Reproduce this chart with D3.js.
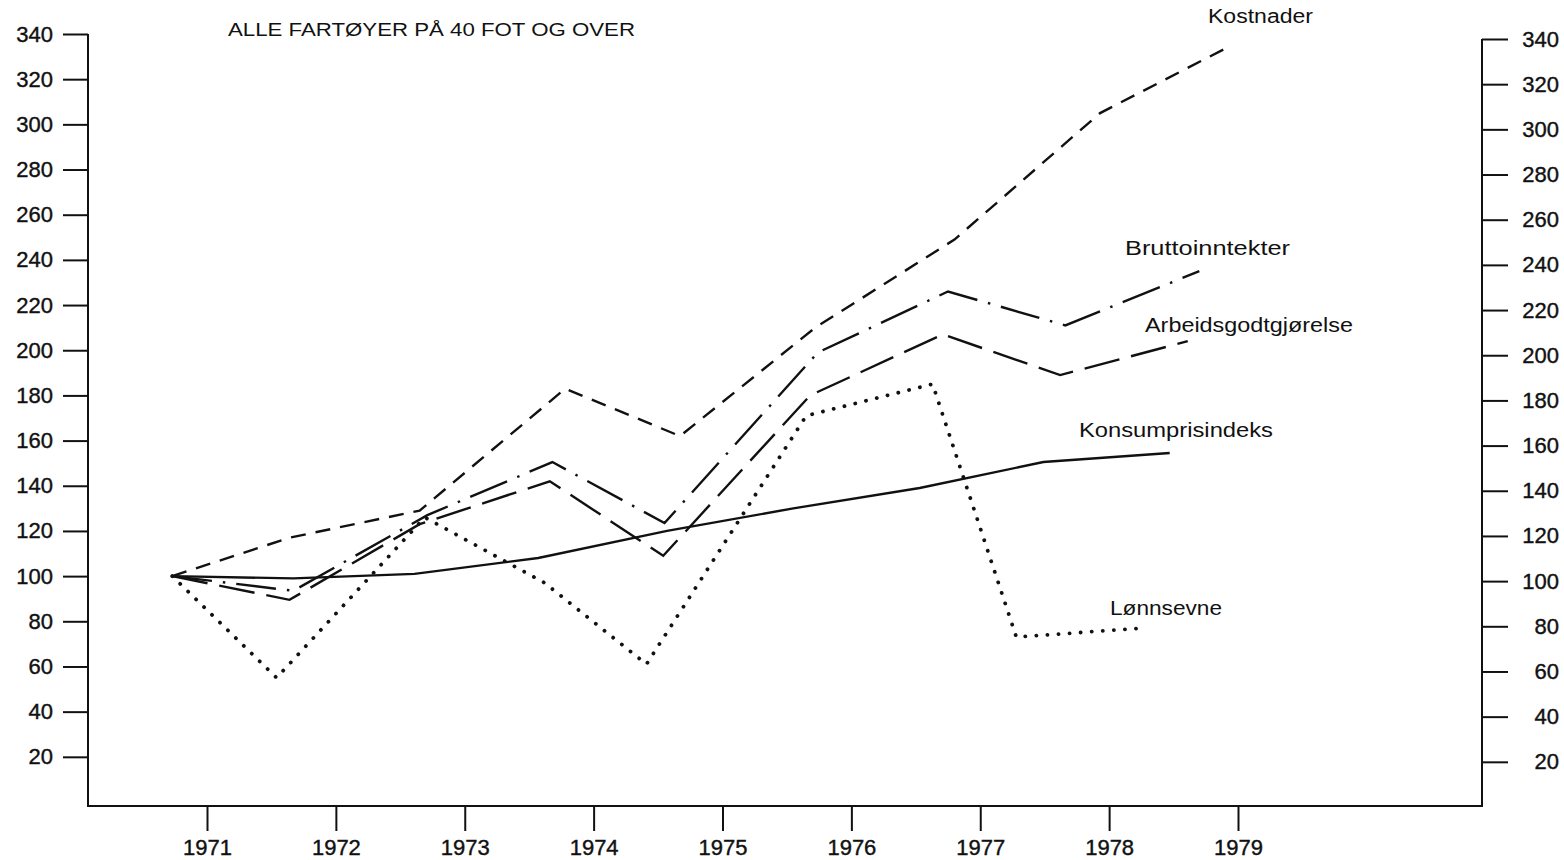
<!DOCTYPE html>
<html>
<head>
<meta charset="utf-8">
<script src="https://cdn.jsdelivr.net/npm/d3@7"></script>
<style>
  body { margin: 0; background: #fff; }
  svg { display: block; }
  text { font-family: "Liberation Sans", Arial, sans-serif; fill: #111; }
</style>
</head>
<body>
<div class="canvas"></div>
<script>
const WIDTH = 1564;
const HEIGHT = 860;

// data (x positions are fractional years, as drawn)
const yTicks = [20, 40, 60, 80, 100, 120, 140, 160, 180, 200, 220, 240, 260, 280, 300, 320, 340];
const yearTicks = [1971, 1972, 1973, 1974, 1975, 1976, 1977, 1978, 1979];

const kostnaderYears = [1970.73, 1971.64, 1972.65, 1973.78, 1974.67, 1975.72, 1976.80, 1977.93, 1978.95];
const kostnaderValues = [100, 117, 129, 183, 162, 210, 249, 305, 335];

const bruttoYears = [1970.73, 1971.67, 1972.71, 1973.68, 1974.55, 1975.74, 1976.75, 1977.66, 1978.70];
const bruttoValues = [100, 93.5, 127, 150.5, 123.5, 199, 226, 211, 235];

const arbeidYears = [1970.73, 1971.64, 1972.65, 1973.66, 1974.54, 1975.68, 1976.71, 1977.62, 1978.61];
const arbeidValues = [100, 89.5, 123, 142, 109, 180, 207, 189, 204];

const konsumYears = [1970.73, 1971.67, 1972.61, 1973.57, 1974.57, 1975.55, 1976.53, 1977.49, 1978.47];
const konsumValues = [100, 99, 101, 108, 120, 130, 139, 150.5, 154.5];

const lonnYears = [1970.73, 1971.54, 1972.69, 1973.62, 1974.41, 1975.65, 1976.63, 1977.28, 1978.26];
const lonnValues = [100, 55, 126, 97, 61, 171, 185, 73, 77];

const svg = d3.select('.canvas')
  .append('svg')
    .attr('width', WIDTH)
    .attr('height', HEIGHT);

// frame edges
const left = 88;
const right = 1482;
const bottom = 806;

const x = d3.scaleLinear()
  .domain([1971, 1979])
  .range([207, 1238]);

const y = d3.scaleLinear()
  .domain([0, 340])
  .range([802, 34]);

// right axis sits a few px lower in the scan
const yRight = d3.scaleLinear()
  .domain([0, 340])
  .range([807, 39]);

// frame lines
svg.append('path')
  .attr('d', `M${left},${y(340)}V${bottom}H${right}V${yRight(340)}`)
  .attr('fill', 'none')
  .attr('stroke', '#111')
  .attr('stroke-width', 2);

// left axis
const leftAxis = svg.append('g')
  .attr('transform', `translate(${left},0)`)
  .call(d3.axisLeft(y).tickValues(yTicks).tickSize(25).tickPadding(10));

// right axis, labels right-aligned at the page edge
const rightAxis = svg.append('g')
  .attr('transform', `translate(${right},0)`)
  .call(d3.axisRight(yRight).tickValues(yTicks).tickSize(26).tickPadding(12));
rightAxis.selectAll('text')
  .attr('text-anchor', 'end')
  .attr('x', 77);

// bottom axis
const bottomAxis = svg.append('g')
  .attr('transform', `translate(0,${bottom})`)
  .call(d3.axisBottom(x).tickValues(yearTicks).tickFormat(d3.format('d')).tickSize(25).tickPadding(8));

[leftAxis, rightAxis, bottomAxis].forEach(g => {
  g.select('.domain').remove();
  g.selectAll('line').attr('stroke', '#111').attr('stroke-width', 2);
  g.selectAll('text')
    .attr('font-family', '"Liberation Sans", Arial, sans-serif')
    .attr('font-size', 22)
    .attr('fill', '#111')
    .attr('stroke', '#111')
    .attr('stroke-width', 0.4);
});

// series
const series = [
  { years: kostnaderYears, values: kostnaderValues, dash: '15 10', width: 2.4 },
  { years: bruttoYears, values: bruttoValues, dash: '40 11 2.5 11', width: 2.4 },
  { years: arbeidYears, values: arbeidValues, dash: '36 12', width: 2.4 },
  { years: konsumYears, values: konsumValues, dash: null, width: 2.4 },
  { years: lonnYears, values: lonnValues, dash: '0.1 11', width: 3.8, round: true }
];

const line = d3.line()
  .x(d => x(d[0]))
  .y(d => y(d[1]));

series.forEach(s => {
  svg.append('path')
    .datum(d3.zip(s.years, s.values))
    .attr('d', line)
    .attr('fill', 'none')
    .attr('stroke', '#111')
    .attr('stroke-width', s.width)
    .attr('stroke-linecap', s.round ? 'round' : 'butt')
    .attr('stroke-linejoin', 'miter')
    .attr('stroke-dasharray', s.dash);
});

// title and series labels
const labels = [
  { text: 'ALLE FARTØYER PÅ 40 FOT OG OVER', x: 228, y: 36, size: 18, len: 407 },
  { text: 'Kostnader', x: 1208, y: 23, size: 20, len: 105 },
  { text: 'Bruttoinntekter', x: 1125, y: 255, size: 20, len: 165 },
  { text: 'Arbeidsgodtgjørelse', x: 1145, y: 332, size: 20, len: 208 },
  { text: 'Konsumprisindeks', x: 1079, y: 437, size: 20, len: 194 },
  { text: 'Lønnsevne', x: 1110, y: 615, size: 20, len: 112 }
];

svg.selectAll('text.label')
  .data(labels)
  .enter()
  .append('text')
    .attr('class', 'label')
    .attr('x', d => d.x)
    .attr('y', d => d.y)
    .attr('font-size', d => d.size)
    .attr('textLength', d => d.len)
    .attr('lengthAdjust', 'spacingAndGlyphs')
    .text(d => d.text);
</script>
</body>
</html>
